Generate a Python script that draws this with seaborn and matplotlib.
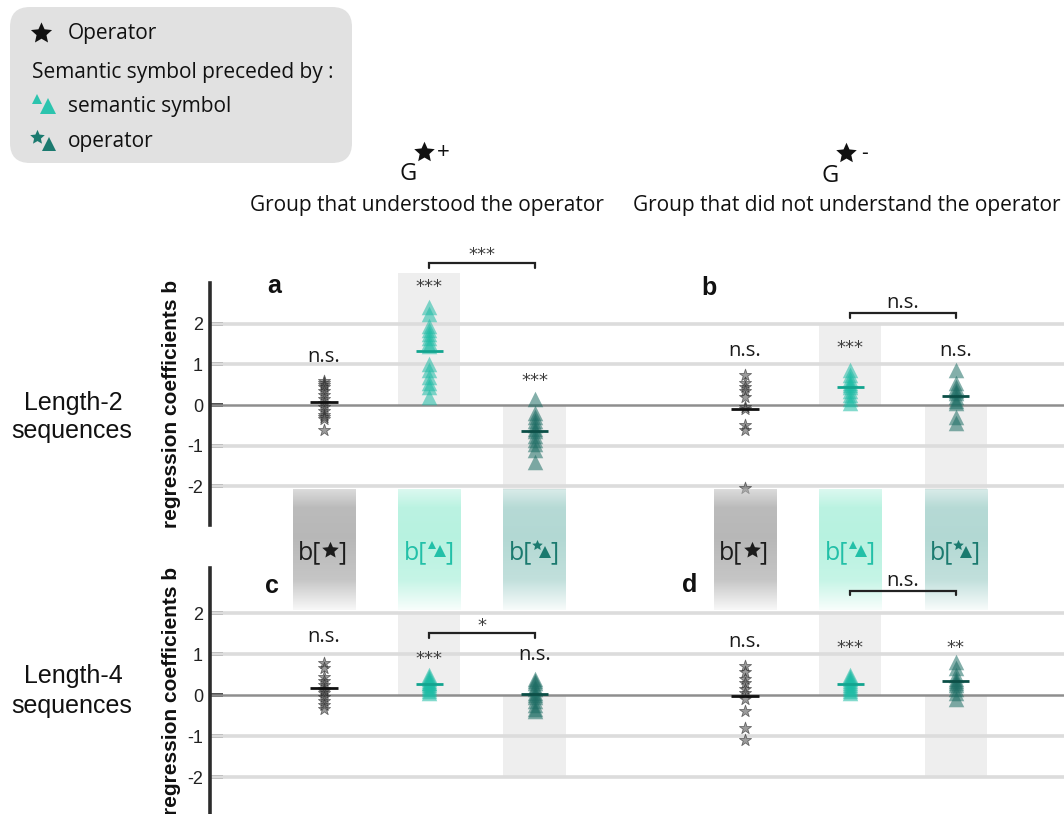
import numpy as np
import pandas as pd
import matplotlib
matplotlib.use("Agg")
import matplotlib.pyplot as plt
from matplotlib.patches import FancyBboxPatch
from matplotlib.path import Path
import seaborn as sns

# ------------------------------------------------------------------
# Regression coefficients b (one value per participant)
# ------------------------------------------------------------------
groups = ["plus", "minus"]            # G★+ understood / G★- did not understand
conditions = ["operator", "semantic", "op_semantic"]

# Length-2 sequences
len2_plus_operator = [0.6, 0.55, 0.5, 0.45, 0.35, 0.25, 0.15, 0.05, -0.05, -0.15, -0.25, -0.3, -0.35, -0.62]
len2_plus_semantic = [2.4, 2.25, 1.95, 1.85, 1.75, 1.65, 1.55, 1.45, 1.0, 0.85, 0.7, 0.55, 0.45, 0.2]
len2_plus_op_semantic = [0.15, -0.2, -0.3, -0.4, -0.5, -0.6, -0.65, -0.75, -0.85, -0.95, -1.1, -1.4]
len2_minus_operator = [0.75, 0.55, 0.45, 0.35, 0.2, -0.05, -0.1, -0.5, -0.62, -2.05]
len2_minus_semantic = [0.85, 0.75, 0.65, 0.55, 0.5, 0.45, 0.35, 0.25, 0.15, 0.05]
len2_minus_op_semantic = [0.85, 0.55, 0.45, 0.35, 0.3, 0.2, 0.1, 0.05, -0.3, -0.45]

# Length-4 sequences
len4_plus_operator = [0.78, 0.65, 0.45, 0.35, 0.25, 0.15, 0.1, 0.05, -0.05, -0.15, -0.25, -0.35]
len4_plus_semantic = [0.5, 0.45, 0.4, 0.35, 0.3, 0.3, 0.25, 0.2, 0.15, 0.1, 0.05]
len4_plus_op_semantic = [0.4, 0.35, 0.3, 0.2, 0.15, 0.05, 0.0, -0.05, -0.15, -0.25, -0.35, -0.4]
len4_minus_operator = [0.7, 0.55, 0.4, 0.3, 0.15, 0.05, -0.1, -0.4, -0.8, -1.1]
len4_minus_semantic = [0.5, 0.45, 0.4, 0.35, 0.3, 0.25, 0.2, 0.15, 0.1, 0.05]
len4_minus_op_semantic = [0.8, 0.65, 0.5, 0.4, 0.35, 0.3, 0.25, 0.15, 0.05, -0.1]

# Tests against zero (order: plus op/sem/op_sem, minus op/sem/op_sem)
len2_sig = ["n.s.", "***", "***", "n.s.", "***", "n.s."]
len4_sig = ["n.s.", "***", "n.s.", "n.s.", "***", "**"]
# semantic vs operator-preceded comparison, per group
len2_pair_sig = ["***", "n.s."]
len4_pair_sig = ["*", "n.s."]

yticks = [-2, -1, 0, 1, 2]
ytick_labels = ["-2", "-1", "0", "1", "2"]

# ------------------------------------------------------------------
# Style
# ------------------------------------------------------------------
sns.set_theme(style="white")
plt.rcParams["font.family"] = ["Open Sans", "DejaVu Sans"]

W, H = 1064, 814
SLOT_X = [0, 1, 2, 4, 5, 6]
UNIT = 105.3                 # pixels per x unit
HALF = 0.295                 # half width of shaded columns
XLIM = (-1.083, 7.03)

TEAL = "#22c0a8"
DARK_TEAL = "#1b7a6f"
FAT_STAR = Path.unit_regular_star(5, 0.47)   # typographic ★ proportions

MARK = {
    "operator": dict(marker="*", s=85, color="#5a5a5a", alpha=0.6, edgecolor="#262626", linewidth=0.6),
    "semantic": dict(marker="^", s=125, color="#1dbca5", alpha=0.55, linewidth=0),
    "op_semantic": dict(marker="^", s=125, color="#1d6d64", alpha=0.55, linewidth=0),
}
MEAN_COLOR = {"operator": "#111111", "semantic": "#12a48f", "op_semantic": "#0c4f47"}


def fig_box(x0, y0, x1, y1):
    return [x0 / W, 1 - y1 / H, (x1 - x0) / W, (y1 - y0) / H]


def long_table(prefix):
    rows = []
    for gi, g in enumerate(groups):
        for ci, c in enumerate(conditions):
            for v in globals()[f"{prefix}_{g}_{c}"]:
                rows.append({"group": g, "cond": c, "slot": gi * 3 + ci, "b": v})
    df = pd.DataFrame(rows)
    df["x"] = df["slot"].map(lambda s: SLOT_X[s])
    return df


def star_text(ax, x, y, s):
    if s.startswith("*"):
        ax.text(x, y, s, ha="center", va="baseline", fontsize=13,
                family="DejaVu Sans", color="#3d3d3d", zorder=6)
    else:
        ax.text(x, y, s, ha="center", va="baseline", fontsize=14.5,
                color="#1a1a1a", zorder=6)


def draw_row(ax, df, ylim, shade, sig, sig_y, pairs, pair_sig, pair_y, pair_text_y):
    ax.patch.set_alpha(0)
    # shaded columns behind the significant effects
    for slot, top in shade:
        ax.bar(SLOT_X[slot], top, bottom=0, width=2 * HALF, color="#c8c8c8",
               alpha=0.3, zorder=0.5, clip_on=False, linewidth=0)
    for v in [-2, -1, 1, 2]:
        ax.axhline(v, color="#dcdcdc", lw=2.6, zorder=1)
    ax.axhline(0, color="#8e8e8e", lw=1.8, zorder=1.5)

    for c in conditions:
        sub = df[df["cond"] == c]
        sns.scatterplot(data=sub, x="x", y="b", ax=ax, legend=False, zorder=3, **MARK[c])
    means = df.groupby("slot")["b"].mean()
    for slot, m in means.items():
        c = conditions[slot % 3]
        x = SLOT_X[slot]
        ax.hlines(m, x - 0.13, x + 0.13, color=MEAN_COLOR[c], lw=2, zorder=4)

    for slot, (s, y) in enumerate(zip(sig, sig_y)):
        star_text(ax, SLOT_X[slot], y, s)

    for (s0, s1), s, y, ty in zip(pairs, pair_sig, pair_y, pair_text_y):
        x0, x1 = SLOT_X[s0], SLOT_X[s1]
        ax.plot([x0, x0, x1, x1], [y - 0.11, y, y, y - 0.11], color="#222222",
                lw=1.6, clip_on=False, zorder=5, solid_joinstyle="miter")
        star_text(ax, (x0 + x1) / 2, ty, s)

    ax.set_xlim(*XLIM)
    ax.set_ylim(*ylim)
    ax.set_xticks([])
    ax.set_yticks(yticks)
    ax.set_yticklabels(ytick_labels)
    ax.set_xlabel("")
    ax.set_ylabel("regression coefficients b", fontsize=15, fontweight="bold",
                  family="Liberation Sans", color="#111111", va="baseline")
    ax.yaxis.set_label_coords((177 - 210) / (W - 210), 0.5)
    for side in ["top", "right", "bottom"]:
        ax.spines[side].set_visible(False)
    ax.spines["left"].set_color("#2b2b2b")
    ax.spines["left"].set_linewidth(2.6)
    ax.tick_params(axis="y", direction="in", length=9, width=2.6, color="#2b2b2b",
                   pad=5, labelsize=13, labelcolor="#222222", left=True)
    for lab in ax.get_yticklabels():
        lab.set_family("Liberation Sans")


def glyph(ax, x, y, marker, ms, color):
    ax.plot([x], [y], linestyle="none", marker=marker, markersize=ms,
            color=color, markeredgewidth=0, zorder=3, clip_on=False)


fig = plt.figure(figsize=(W / 100, H / 100), dpi=100)

# decoration layer in pixel coordinates
deco = fig.add_axes([0, 0, 1, 1], zorder=-1)
deco.set_xlim(0, W)
deco.set_ylim(H, 0)
deco.axis("off")

# ------------------------------------------------------------------
# Length-2 row
# ------------------------------------------------------------------
ax1 = fig.add_axes(fig_box(210, 283, W, 525))
draw_row(ax1, long_table("len2"), (-2.95, 3.0),
         shade=[(1, 3.24), (2, -2.1), (4, 1.96), (5, -2.1)],
         sig=len2_sig, sig_y=[1.06, 2.79, 0.47, 1.2, 1.27, 1.2],
         pairs=[(1, 2), (4, 5)], pair_sig=len2_pair_sig,
         pair_y=[3.49, 2.26], pair_text_y=[3.56, 2.38])

# condition labels between the rows
band = fig.add_axes(fig_box(210, 489, W, 610))
band.patch.set_alpha(0)
band.axis("off")

BOX_RGB = {"operator": (0.72, 0.72, 0.72),
           "semantic": (0.72, 0.95, 0.88),
           "op_semantic": (0.70, 0.85, 0.83)}
TXT_COL = {"operator": "#1c1c1c", "semantic": TEAL, "op_semantic": DARK_TEAL}


def gradient_box(x, rgb):
    t = np.linspace(0, 1, 121)
    alpha = np.interp(t, [0, 0.15, 0.4, 0.75, 1.0], [0.5, 0.95, 1.0, 0.8, 0.1])
    img = np.zeros((121, 1, 4))
    img[..., :3] = rgb
    img[..., 3] = alpha[:, None]
    band.imshow(img, extent=(x - HALF, x + HALF, 610, 489), aspect="auto",
                interpolation="bilinear", zorder=1)


def cond_label(x, kind):
    col = TXT_COL[kind]
    px = lambda d: x + d / UNIT
    band.text(px(-2.5), 559, "b[", ha="right", va="baseline", fontsize=18, color=col, zorder=3)
    if kind == "operator":
        glyph(band, px(6.5), 550, FAT_STAR, 12.5, col)
        band.text(px(14.5), 559, "]", ha="left", va="baseline", fontsize=18, color=col, zorder=3)
    elif kind == "semantic":
        glyph(band, px(3), 545.5, "^", 5.4, col)
        glyph(band, px(11), 551.5, "^", 8.2, col)
        band.text(px(16), 559, "]", ha="left", va="baseline", fontsize=18, color=col, zorder=3)
    else:
        glyph(band, px(2.5), 545, FAT_STAR, 8, col)
        glyph(band, px(10.5), 552, "^", 8.6, col)
        band.text(px(16), 559, "]", ha="left", va="baseline", fontsize=18, color=col, zorder=3)


for slot, x in enumerate(SLOT_X):
    kind = conditions[slot % 3]
    gradient_box(x, BOX_RGB[kind])
    cond_label(x, kind)
band.set_xlim(*XLIM)
band.set_ylim(610, 489)

# ------------------------------------------------------------------
# Length-4 row
# ------------------------------------------------------------------
ax2 = fig.add_axes(fig_box(210, 568, W, 814))
draw_row(ax2, long_table("len4"), (-2.902, 3.098),
         shade=[(1, 2.0), (2, -2.0), (4, 2.0), (5, -2.0)],
         sig=len4_sig, sig_y=[1.29, 0.76, 0.85, 1.17, 1.02, 1.02],
         pairs=[(1, 2), (4, 5)], pair_sig=len4_pair_sig,
         pair_y=[1.51, 2.54], pair_text_y=[1.56, 2.66])

# panel letters
for (px_, py_, letter) in [(274, 293, "a"), (709, 295, "b"), (272, 593, "c"), (690, 592, "d")]:
    deco.text(px_, py_, letter, ha="center", va="baseline", fontsize=18,
              fontweight="bold", family="Liberation Sans", color="#111111")

# row titles
for (y1, y2, t) in [(410, 438, "Length-2"), (683, 713, "Length-4")]:
    deco.text(73, y1, t, ha="center", va="baseline", fontsize=18,
              family="Liberation Sans", color="#111111")
    deco.text(72, y2, "sequences", ha="center", va="baseline", fontsize=18,
              family="Liberation Sans", color="#111111")

# group headers
deco.text(408.5, 180, "G", ha="center", va="baseline", fontsize=17, color="#111111")
glyph(deco, 424, 152, FAT_STAR, 15.5, "#111111")
deco.text(443, 153, "+", ha="center", va="center", fontsize=16, color="#111111")
deco.text(427, 211, "Group that understood the operator", ha="center",
          va="baseline", fontsize=15, color="#111111")

deco.text(830, 182, "G", ha="center", va="baseline", fontsize=17, color="#111111")
glyph(deco, 846, 153, FAT_STAR, 15.5, "#111111")
deco.text(865, 153, "-", ha="center", va="center", fontsize=15, color="#111111")
deco.text(847, 211, "Group that did not understand the operator", ha="center",
          va="baseline", fontsize=15, color="#111111")

# key box
deco.add_patch(FancyBboxPatch((10, 7), 342, 156, boxstyle="round,pad=0,rounding_size=20",
                              facecolor="#e1e1e1", edgecolor="none", zorder=0))
glyph(deco, 40.5, 32.5, FAT_STAR, 16, "#111111")
deco.text(68, 39, "Operator", ha="left", va="baseline", fontsize=15, color="#111111", zorder=2)
deco.text(32, 78, "Semantic symbol preceded by :", ha="left", va="baseline",
          fontsize=15, color="#111111", zorder=2)
glyph(deco, 36.5, 98.5, "^", 7.8, "#2cc4ae")
glyph(deco, 47.5, 105.5, "^", 11, "#2cc4ae")
deco.text(68, 112, "semantic symbol", ha="left", va="baseline", fontsize=15,
          color="#111111", zorder=2)
glyph(deco, 36.5, 136.5, FAT_STAR, 11, DARK_TEAL)
glyph(deco, 49, 143.5, "^", 10, DARK_TEAL)
deco.text(68, 147, "operator", ha="left", va="baseline", fontsize=15,
          color="#111111", zorder=2)

fig.savefig("out.png", dpi=100, facecolor="white")
